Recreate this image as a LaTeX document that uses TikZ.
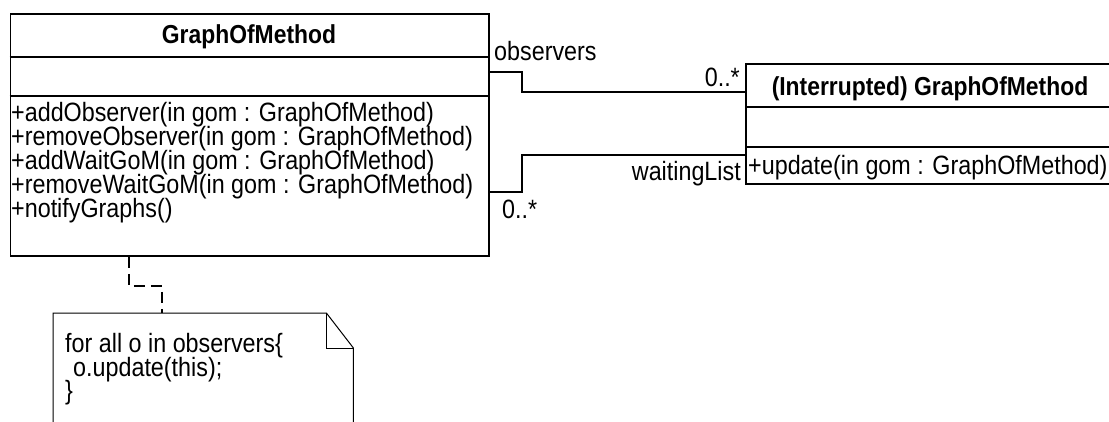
\documentclass[tikz,border=0pt]{standalone}
\usepackage{fontspec}
\setmainfont{Liberation Sans}[FakeStretch=0.88]
\begin{document}
\begin{tikzpicture}[x=1pt,y=-1pt,
  umltext/.style={font=\fontsize{26.5}{24}\selectfont, inner sep=0pt},
  umlbold/.style={font=\fontsize{26}{24}\selectfont\bfseries, inner sep=0pt},
  classbox/.style={draw, line width=1.8pt, inner sep=0pt, anchor=north west},
  sepline/.style={line width=1.8pt},
  assoc/.style={line width=1.4pt},
  notelink/.style={line width=1.3pt, dash pattern=on 11pt off 6pt},
  noteshape/.style={line width=1pt}]
\useasboundingbox (0,0) rectangle (1109,421);

% class GraphOfMethod
\node[classbox, minimum width=478.5pt, minimum height=242pt] (gom) at (9.5,13) {};
\draw[sepline] ([yshift=-44pt]gom.north west) -- ([yshift=-44pt]gom.north east);
\draw[sepline] ([yshift=-83pt]gom.north west) -- ([yshift=-83pt]gom.north east);
\node[umlbold, anchor=base] (gomname) at (249,43) {GraphOfMethod};
\node[umltext, anchor=base west] (m1) at (11,121) {+addObserver(in gom : GraphOfMethod)};
\node[umltext, anchor=base west] (m2) at (11,145) {+removeObserver(in gom : GraphOfMethod)};
\node[umltext, anchor=base west] (m3) at (11,169) {+addWaitGoM(in gom : GraphOfMethod)};
\node[umltext, anchor=base west] (m4) at (11,193) {+removeWaitGoM(in gom : GraphOfMethod)};
\node[umltext, anchor=base west] (m5) at (11,217) {+notifyGraphs()};

% class (Interrupted) GraphOfMethod
\node[classbox, minimum width=365pt, minimum height=120pt] (igom) at (745,63) {};
\draw[sepline] ([yshift=-44pt]igom.north west) -- ([yshift=-44pt]igom.north east);
\draw[sepline] ([yshift=-84pt]igom.north west) -- ([yshift=-84pt]igom.north east);
\node[umlbold, anchor=base] (igomname) at (930,95) {(Interrupted) GraphOfMethod};
\node[umltext, anchor=base west] (u1) at (748,174) {+update(in gom : GraphOfMethod)};

% associations
\draw[assoc] (gom.east |- 0,72) -- ++(32,0) |- (igom.west |- 0,92);
\draw[assoc] (gom.east |- 0,192) -- ++(32,0) |- (igom.west |- 0,155);
\node[umltext, anchor=base west] (lobs) at (494,60) {observers};
\node[umltext, anchor=base east] (mobs) at (740,86) {0..*};
\node[umltext, anchor=base east] (lwait) at (741,180) {waitingList};
\node[umltext, anchor=base west] (mwait) at (502,218) {0..*};

% note
\node[inner sep=0pt, minimum width=300pt, minimum height=140pt, anchor=north west] (note) at (53,313) {};
\draw[noteshape] (note.south west) -- (note.north west) -- ([xshift=-27pt]note.north east)
  -- ([yshift=-35pt]note.north east) -- (note.south east);
\draw[noteshape] ([xshift=-27pt]note.north east) -- ([xshift=-27pt,yshift=-35pt]note.north east)
  -- ([yshift=-35pt]note.north east);
\node[umltext, anchor=base west] (n1) at (65,352) {for all o in observers\{};
\node[umltext, anchor=base west] (n2) at (73,376) {o.update(this);};
\node[umltext, anchor=base west] (n3) at (65,399) {\}};
\draw[notelink] (gom.south -| 129,0) -- (129,286) -| (note.north -| 162,0);
\end{tikzpicture}
\end{document}
